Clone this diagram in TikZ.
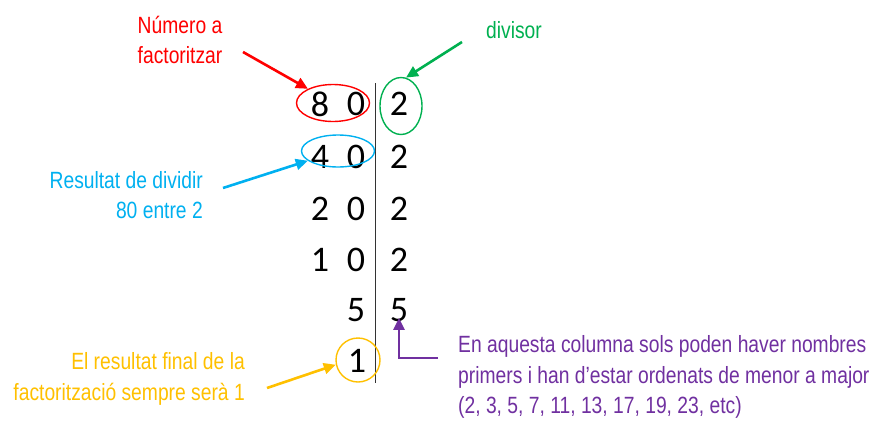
\documentclass[tikz,border=0pt]{standalone}
\usepackage{fontspec}
\usetikzlibrary{arrows.meta,shapes.geometric}
\newfontfamily\labfont{Liberation Sans}[FakeStretch=0.82]
\newfontfamily\digfont{Carlito}
\definecolor{cred}{HTML}{FF0000}
\definecolor{cgreen}{HTML}{00B050}
\definecolor{cblue}{HTML}{00B0F0}
\definecolor{cyellow}{HTML}{FFC000}
\definecolor{cpurple}{HTML}{7030A0}
\tikzset{
  dig/.style={inner sep=0pt, font=\digfont\fontsize{36}{36}\selectfont},
  lab/.style={inner sep=0pt, font=\labfont\fontsize{23.5}{30.5}\selectfont},
  ring/.style={draw, ellipse, line width=1.4pt, inner sep=0pt},
  arr/.style={line width=2.6pt, -{Triangle[length=12pt,width=11pt]}},
}
\begin{document}
\begin{tikzpicture}[x=1pt,y=-1pt]
\useasboundingbox (0,0) rectangle (879,426);
% vertical bar
\coordinate (vtop) at (375.5,83);
\coordinate (vbot) at (375.5,383);
\draw[line width=1pt, black!80] (vtop) -- (vbot);
% digits
\node[dig] (a1) at (320,104) {8};
\node[dig] (b1) at (356,104) {0};
\node[dig] (r1) at (399,104) {2};
\node[dig] (a2) at (320,157) {4};
\node[dig] (b2) at (356,157) {0};
\node[dig] (r2) at (399,157) {2};
\node[dig] (a3) at (320,209) {2};
\node[dig] (b3) at (356,209) {0};
\node[dig] (r3) at (399,209) {2};
\node[dig] (a4) at (320,260) {1};
\node[dig] (b4) at (356,260) {0};
\node[dig] (r4) at (399,260) {2};
\node[dig] (b5) at (356,310) {5};
\node[dig] (r5) at (399,310) {5};
\node[dig] (b6) at (357,361) {1};
% rings
\node[ring, cred, minimum width=73pt, minimum height=37pt] (ered) at (333,103) {};
\node[ring, cgreen, minimum width=42pt, minimum height=57pt] (egreen) at (401,106) {};
\node[ring, cblue, minimum width=73pt, minimum height=32pt] (eblue) at (338,151) {};
\node[ring, cyellow, circle, minimum size=44pt] (cyel) at (358,360) {};
% labels
\node[lab, cred, align=center] (lred) at (180,40) {Número a\\factoritzar};
\node[lab, cgreen] (lgreen) at (514,30) {divisor};
\node[lab, cblue, align=right, anchor=east] (lblue) at (203,195) {Resultat de dividir\\80 entre 2};
\node[lab, cyellow, align=right, anchor=east] (lyel) at (245,379) {El resultat final de la\\factorització sempre serà 1};
\node[lab, cpurple, align=left, anchor=west] (lpur) at (458,377) {En aquesta columna sols poden haver nombres\\primers i han d’estar ordenats de menor a major\\(2, 3, 5, 7, 11, 13, 17, 19, 23, etc)};
% arrows
\coordinate (sred) at (243,52);
\coordinate (sgreen) at (462,42);
\coordinate (sblue) at (223,188);
\coordinate (syel) at (267,388);
\coordinate (spur) at (438,358);
\draw[arr, cred] (sred) -- (ered);
\draw[arr, cgreen] (sgreen) -- (egreen.80);
\draw[arr, cblue] (sblue) -- (eblue);
\draw[arr, cyellow] (syel) -- (cyel.192);
\draw[arr, cpurple, line width=2.2pt] (spur) -| ([yshift=4pt]r5.south);
\end{tikzpicture}
\end{document}
